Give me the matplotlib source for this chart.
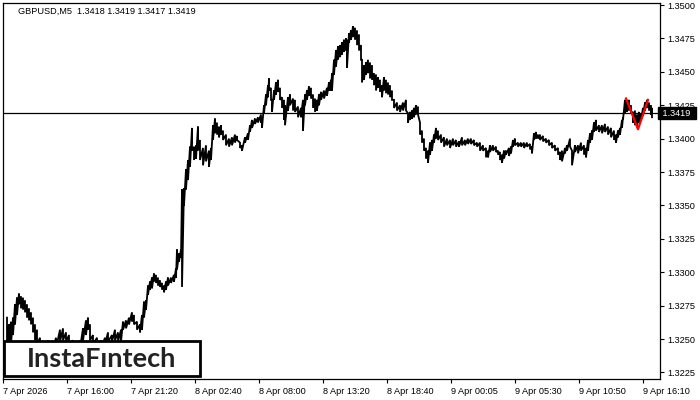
import numpy as np
import matplotlib
matplotlib.use('Agg')
import matplotlib.pyplot as plt
from matplotlib.patches import Rectangle

# bar index (5-min bars from 7 Apr 10:40) and sampled high / low prices
bar = [4, 6, 8, 10, 12, 14, 16, 18, 20, 22, 24, 26, 28, 30, 32, 34, 37, 41, 45, 49,
       53, 57, 60, 63, 66, 70, 74, 77, 80, 83, 85, 87, 90, 94, 98, 102, 105, 109, 112, 115,
       118, 120, 123, 126, 129, 131, 134, 137, 139, 141, 143, 145, 147, 149, 151, 153, 155, 157, 159, 161,
       163, 165, 168, 171, 173, 174, 176, 178, 179, 181, 183, 185, 187, 189, 191, 193, 195, 197, 200, 203,
       206, 208, 210, 212, 214, 216, 218, 220, 223, 226, 229, 232, 234, 237, 239, 242, 245, 247, 249, 252,
       255, 258, 259, 261, 263, 265, 266, 268, 269, 271, 273, 275, 277, 279, 281, 282, 285, 287, 290, 292,
       295, 298, 300, 302, 304, 306, 308, 310, 312, 314, 316, 318, 321, 324, 326, 328, 329, 331, 333, 335,
       337, 339, 341, 343, 344, 346, 348, 350, 352, 354, 356, 358, 359, 361, 363, 365, 367, 369, 371, 373,
       375, 377, 379, 381, 383, 385, 387, 389, 391, 394, 397, 400, 403, 405, 407, 409, 411, 413, 415, 417,
       419, 421, 423, 425, 427, 429, 431, 433, 435, 438, 441, 444, 447, 450, 453, 456, 459, 462, 465, 468,
       471, 474, 477, 480, 483, 485, 487, 490, 493, 495, 497, 499, 501, 503, 506, 508, 510, 512, 515, 518,
       521, 524, 527, 529, 531, 533, 535, 537, 540, 543, 546, 549, 552, 555, 557, 559, 562, 564, 567, 569,
       572, 575, 578, 581, 583, 585, 587, 589, 591, 593, 596, 599, 602, 605, 608, 611, 613, 615, 617, 619,
       620, 622, 624, 626, 628, 630, 632, 634, 636, 638, 640, 642, 644, 646, 648, 649]

high = [1.3266, 1.3261, 1.3263, 1.3266, 1.3276, 1.3281, 1.3284, 1.3282, 1.3281, 1.3279,
        1.3276, 1.3273, 1.3270, 1.3266, 1.3261, 1.3257, 1.3251, 1.3248, 1.3249, 1.3247,
        1.3251, 1.3257, 1.3258, 1.3255, 1.3253, 1.3249, 1.3248, 1.3249, 1.3258, 1.3264,
        1.3266, 1.3261, 1.3253, 1.3251, 1.3249, 1.3251, 1.3255, 1.3253, 1.3257, 1.3255,
        1.3257, 1.3263, 1.3264, 1.3266, 1.3270, 1.3268, 1.3263, 1.3261, 1.3268, 1.3278,
        1.3279, 1.3290, 1.3293, 1.3296, 1.3299, 1.3298, 1.3296, 1.3294, 1.3292, 1.3290,
        1.3293, 1.3296, 1.3296, 1.3298, 1.3303, 1.3317, 1.3314, 1.3317, 1.3362, 1.3363,
        1.3377, 1.3384, 1.3394, 1.3408, 1.3394, 1.3395, 1.3409, 1.3399, 1.3393, 1.3395,
        1.3391, 1.3393, 1.3410, 1.3415, 1.3412, 1.3409, 1.3410, 1.3406, 1.3403, 1.3400,
        1.3401, 1.3403, 1.3402, 1.3397, 1.3395, 1.3401, 1.3404, 1.3410, 1.3414, 1.3415,
        1.3416, 1.3418, 1.3416, 1.3425, 1.3433, 1.3440, 1.3445, 1.3438, 1.3429, 1.3436,
        1.3442, 1.3444, 1.3438, 1.3431, 1.3429, 1.3425, 1.3431, 1.3433, 1.3430, 1.3429,
        1.3424, 1.3423, 1.3429, 1.3433, 1.3436, 1.3439, 1.3438, 1.3433, 1.3430, 1.3429,
        1.3433, 1.3435, 1.3436, 1.3438, 1.3442, 1.3444, 1.3449, 1.3459, 1.3466, 1.3469,
        1.3470, 1.3472, 1.3474, 1.3475, 1.3474, 1.3479, 1.3481, 1.3484, 1.3483, 1.3481,
        1.3478, 1.3470, 1.3459, 1.3455, 1.3457, 1.3459, 1.3457, 1.3455, 1.3449, 1.3448,
        1.3446, 1.3444, 1.3440, 1.3446, 1.3444, 1.3442, 1.3440, 1.3436, 1.3429, 1.3427,
        1.3425, 1.3427, 1.3429, 1.3419, 1.3420, 1.3421, 1.3423, 1.3425, 1.3424, 1.3412,
        1.3406, 1.3400, 1.3393, 1.3391, 1.3397, 1.3399, 1.3403, 1.3408, 1.3406, 1.3403,
        1.3401, 1.3400, 1.3399, 1.3400, 1.3399, 1.3398, 1.3401, 1.3399, 1.3400, 1.3400,
        1.3399, 1.3397, 1.3397, 1.3395, 1.3393, 1.3391, 1.3395, 1.3395, 1.3394, 1.3391,
        1.3390, 1.3388, 1.3391, 1.3391, 1.3393, 1.3394, 1.3399, 1.3400, 1.3397, 1.3397,
        1.3397, 1.3397, 1.3396, 1.3394, 1.3404, 1.3405, 1.3403, 1.3403, 1.3402, 1.3400,
        1.3399, 1.3397, 1.3395, 1.3393, 1.3390, 1.3391, 1.3393, 1.3395, 1.3400, 1.3391,
        1.3395, 1.3395, 1.3397, 1.3395, 1.3393, 1.3399, 1.3404, 1.3406, 1.3412, 1.3414,
        1.3410, 1.3410, 1.3411, 1.3409, 1.3408, 1.3406, 1.3403, 1.3406, 1.3408, 1.3414,
        1.3416, 1.3429, 1.3429, 1.3429, 1.3425, 1.3420, 1.3421, 1.3418, 1.3420, 1.3419,
        1.3423, 1.3427, 1.3429, 1.3427, 1.3425, 1.3423]

low = [1.3246, 1.3248, 1.3246, 1.3253, 1.3261, 1.3268, 1.3276, 1.3273, 1.3272, 1.3270,
       1.3266, 1.3264, 1.3261, 1.3255, 1.3249, 1.3246, 1.3242, 1.3240, 1.3242, 1.3240,
       1.3243, 1.3248, 1.3249, 1.3248, 1.3246, 1.3242, 1.3242, 1.3243, 1.3249, 1.3253,
       1.3257, 1.3249, 1.3246, 1.3245, 1.3243, 1.3246, 1.3248, 1.3248, 1.3249, 1.3248,
       1.3248, 1.3257, 1.3258, 1.3261, 1.3263, 1.3261, 1.3257, 1.3255, 1.3257, 1.3266,
       1.3272, 1.3283, 1.3287, 1.3288, 1.3293, 1.3292, 1.3290, 1.3289, 1.3287, 1.3285,
       1.3287, 1.3290, 1.3292, 1.3293, 1.3296, 1.3302, 1.3308, 1.3311, 1.3289, 1.3350,
       1.3362, 1.3369, 1.3379, 1.3391, 1.3384, 1.3385, 1.3391, 1.3384, 1.3380, 1.3383,
       1.3379, 1.3384, 1.3399, 1.3404, 1.3403, 1.3401, 1.3403, 1.3399, 1.3395, 1.3394,
       1.3395, 1.3397, 1.3399, 1.3393, 1.3391, 1.3397, 1.3399, 1.3405, 1.3408, 1.3411,
       1.3412, 1.3412, 1.3408, 1.3419, 1.3425, 1.3431, 1.3436, 1.3429, 1.3420, 1.3429,
       1.3433, 1.3435, 1.3429, 1.3423, 1.3414, 1.3410, 1.3421, 1.3425, 1.3421, 1.3420,
       1.3416, 1.3416, 1.3406, 1.3425, 1.3429, 1.3432, 1.3430, 1.3423, 1.3420, 1.3421,
       1.3425, 1.3429, 1.3430, 1.3432, 1.3436, 1.3436, 1.3436, 1.3448, 1.3454, 1.3459,
       1.3461, 1.3463, 1.3465, 1.3466, 1.3453, 1.3472, 1.3474, 1.3476, 1.3474, 1.3470,
       1.3466, 1.3459, 1.3442, 1.3444, 1.3448, 1.3449, 1.3445, 1.3444, 1.3440, 1.3436,
       1.3438, 1.3435, 1.3431, 1.3436, 1.3434, 1.3433, 1.3431, 1.3429, 1.3423, 1.3421,
       1.3420, 1.3421, 1.3421, 1.3412, 1.3414, 1.3415, 1.3416, 1.3418, 1.3418, 1.3403,
       1.3397, 1.3391, 1.3385, 1.3382, 1.3388, 1.3391, 1.3397, 1.3400, 1.3399, 1.3397,
       1.3394, 1.3395, 1.3393, 1.3395, 1.3394, 1.3394, 1.3395, 1.3395, 1.3396, 1.3396,
       1.3395, 1.3394, 1.3391, 1.3391, 1.3386, 1.3386, 1.3390, 1.3391, 1.3390, 1.3388,
       1.3384, 1.3382, 1.3385, 1.3388, 1.3387, 1.3389, 1.3394, 1.3395, 1.3394, 1.3394,
       1.3393, 1.3394, 1.3392, 1.3389, 1.3399, 1.3400, 1.3400, 1.3399, 1.3398, 1.3397,
       1.3395, 1.3393, 1.3391, 1.3388, 1.3384, 1.3383, 1.3389, 1.3391, 1.3394, 1.3380,
       1.3390, 1.3389, 1.3391, 1.3388, 1.3386, 1.3391, 1.3397, 1.3399, 1.3405, 1.3406,
       1.3405, 1.3404, 1.3405, 1.3403, 1.3401, 1.3399, 1.3397, 1.3401, 1.3403, 1.3408,
       1.3414, 1.3419, 1.3420, 1.3421, 1.3419, 1.3412, 1.3410, 1.3409, 1.3412, 1.3414,
       1.3417, 1.3421, 1.3423, 1.3421, 1.3418, 1.3416]

last_price = 1.3419
title = 'GBPUSD,M5  1.3418 1.3419 1.3417 1.3419'

# double bottom pattern (red)
pat_bar = [623, 635, 645]
pat_price = [1.3430, 1.3407, 1.3429]

xtick_bar = [0, 64, 128, 192, 256, 320, 384, 448, 512, 576, 640]
xtick_lbl = ['7 Apr 2026', '7 Apr 16:00', '7 Apr 21:20', '8 Apr 02:40', '8 Apr 08:00',
             '8 Apr 13:20', '8 Apr 18:40', '9 Apr 00:05', '9 Apr 05:30', '9 Apr 10:50',
             '9 Apr 16:10']
ytick_val = [1.3225, 1.3250, 1.3275, 1.3300, 1.3325, 1.3350, 1.3375, 1.3400,
             1.3425, 1.3450, 1.3475, 1.3500]

plt.rcParams['font.family'] = ['Liberation Sans', 'DejaVu Sans']

fig = plt.figure(figsize=(7, 4), dpi=100)
ax = fig.add_axes([3 / 700, 1 - 379 / 400, 656.5 / 700, 376 / 400])

# zigzag through high/low of every sampled bar
xs = np.repeat(bar, 2)
ys = np.column_stack([high, low]).ravel()
ax.plot(xs, ys, color='black', lw=1.3, solid_joinstyle='miter')

ax.axhline(last_price, color='black', lw=0.9)
ax.plot(pat_bar, pat_price, color='#ff0000', lw=1.6, zorder=5)

ax.set_xlim(0, 656.5)
ax.set_ylim(1.32201, 1.35015)

ax.yaxis.tick_right()
ax.set_yticks(ytick_val)
ax.set_yticklabels(['%.4f' % v for v in ytick_val])
ax.set_xticks(xtick_bar)
ax.set_xticklabels(xtick_lbl, ha='left')
ax.tick_params(axis='both', direction='out', length=3, width=0.8, labelsize=6.6, pad=2.5,
               colors='black')
for s in ax.spines.values():
    s.set_linewidth(0.9)

# current price box, drawn over the 1.3425 label as in the terminal
ax.text(1.0, last_price, ' %.4f  ' % last_price, transform=ax.get_yaxis_transform(),
        ha='left', va='center', fontsize=6.6, color='white', clip_on=False, zorder=20,
        bbox=dict(boxstyle='square,pad=0.15', fc='black', ec='black'))

fig.text(18 / 700, 1 - 11 / 400, title, fontsize=6.6, va='center', ha='left')

# logo
fig.patches.append(Rectangle((3.8 / 700, 1 - 376 / 400), 196 / 700, 35 / 400,
                             transform=fig.transFigure, fc='white', ec='black', lw=2.0,
                             zorder=10))
fig.text(102 / 700, 1 - 359 / 400, 'InstaF\u0131ntech', fontsize=19.5, color='#222222',
         family='Lato', weight='bold', ha='center', va='center', zorder=11)

fig.savefig('out.png', dpi=100)
